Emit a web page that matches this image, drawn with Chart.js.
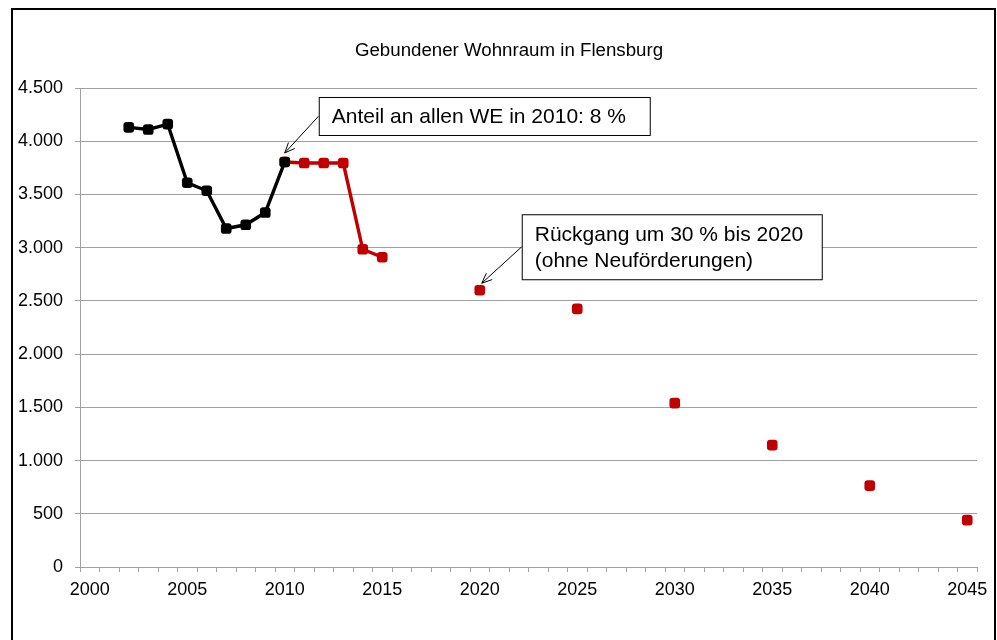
<!DOCTYPE html>
<html>
<head>
<meta charset="utf-8">
<script src="https://cdn.jsdelivr.net/npm/chart.js@4"></script>
<style>
  html, body { margin: 0; padding: 0; background: #fff; }
  #wrap { width: 997px; height: 640px; position: relative; }
</style>
</head>
<body>
<div id="wrap"><canvas id="wohnraum" width="997" height="640"></canvas></div>
<script>
// Kategorien: Jahre 2000 bis 2045
const jahre = Array.from({ length: 46 }, (_, i) => String(2000 + i));

// Bestand (schwarz)
const bestandJahre = ['2002', '2003', '2004', '2005', '2006', '2007', '2008', '2009', '2010'];
const bestandWerte = [4130, 4110, 4160, 3610, 3535, 3180, 3215, 3330, 3805];

// Auslaufende Bindungen (rot, verbunden)
const auslaufJahre = ['2010', '2011', '2012', '2013', '2014', '2015'];
const auslaufWerte = [3805, 3795, 3795, 3795, 2985, 2910];

// Prognose (rot, nur Punkte)
const prognoseJahre = ['2020', '2025', '2030', '2035', '2040', '2045'];
const prognoseWerte = [2600, 2425, 1540, 1145, 765, 440];

const yTicks = [0, 500, 1000, 1500, 2000, 2500, 3000, 3500, 4000, 4500];

const titel = 'Gebundener Wohnraum in Flensburg';

const toPoints = (xs, ys) => xs.map((x, i) => ({ x: x, y: ys[i] }));
const formatDE = n => String(n).replace(/\B(?=(\d{3})+(?!\d))/g, '.');

const rot = '#c00000';
const grau = '#a0a0a0';
const schrift = "'Liberation Sans', Arial, sans-serif";

Chart.defaults.font.family = schrift;
Chart.defaults.color = '#000';

// Hinweise mit Pfeil, an Datenpunkte gebunden
const hinweise = [
  { dataset: 0, jahr: '2010', zeilen: ['Anteil an allen WE in 2010: 8 %'], dx: 34, dy: -65, w: 331, h: 38, tip: [0, -9] },
  { dataset: 2, jahr: '2020', zeilen: ['Rückgang um 30 % bis 2020', '(ohne Neuförderungen)'], dx: 42, dy: -76, w: 300, h: 65, tip: [2, -7] }
];
const datasetJahre = [bestandJahre, auslaufJahre, prognoseJahre];

const hinweisPlugin = {
  id: 'hinweise',
  afterDraw(chart) {
    const ctx = chart.ctx;
    ctx.save();
    // Rahmen um das Diagramm
    ctx.strokeStyle = '#000';
    ctx.lineWidth = 2;
    ctx.strokeRect(12, 9, 983, 640);

    // Titel
    ctx.fillStyle = '#000';
    ctx.font = '18.7px ' + schrift;
    ctx.textAlign = 'center';
    ctx.textBaseline = 'middle';
    ctx.fillText(titel, 509, 51);

    hinweise.forEach(h => {
      const idx = datasetJahre[h.dataset].indexOf(h.jahr);
      const pt = chart.getDatasetMeta(h.dataset).data[idx];
      const left = pt.x + h.dx;
      const top = pt.y + h.dy;
      const tipX = pt.x + h.tip[0];
      const tipY = pt.y + h.tip[1];
      const startX = left;
      const startY = top + h.h / 2;

      // Pfeil
      ctx.strokeStyle = '#000';
      ctx.lineWidth = 1;
      ctx.beginPath();
      ctx.moveTo(startX, startY);
      ctx.lineTo(tipX, tipY);
      const ang = Math.atan2(tipY - startY, tipX - startX);
      const len = 11;
      ctx.moveTo(tipX - len * Math.cos(ang - 0.4), tipY - len * Math.sin(ang - 0.4));
      ctx.lineTo(tipX, tipY);
      ctx.lineTo(tipX - len * Math.cos(ang + 0.4), tipY - len * Math.sin(ang + 0.4));
      ctx.stroke();

      // Kasten
      ctx.fillStyle = '#fff';
      ctx.fillRect(left, top, h.w, h.h);
      ctx.strokeRect(left + 0.5, top + 0.5, h.w, h.h);

      // Text
      ctx.fillStyle = '#000';
      ctx.font = '21px ' + schrift;
      ctx.textBaseline = 'middle';
      ctx.textAlign = 'left';
      const mid = top + h.h / 2;
      const step = 26;
      h.zeilen.forEach((z, i) => {
        const y = mid + (i - (h.zeilen.length - 1) / 2) * step;
        ctx.fillText(z, left + 13, y + 1);
      });
    });
    ctx.restore();
  }
};

const ctx = document.getElementById('wohnraum').getContext('2d');
new Chart(ctx, {
  type: 'line',
  data: {
    labels: jahre,
    datasets: [
      {
        label: 'Bestand',
        data: toPoints(bestandJahre, bestandWerte),
        borderColor: '#000',
        backgroundColor: '#000',
        borderWidth: 3.4,
        pointStyle: 'rectRounded',
        pointRadius: 6.2,
        pointBorderWidth: 0,
        tension: 0
      },
      {
        label: 'Auslaufend',
        data: toPoints(auslaufJahre, auslaufWerte),
        borderColor: rot,
        backgroundColor: rot,
        borderWidth: 3.4,
        pointStyle: 'rectRounded',
        pointRadius: 6.2,
        pointBorderWidth: 0,
        tension: 0
      },
      {
        label: 'Prognose',
        data: toPoints(prognoseJahre, prognoseWerte),
        borderColor: rot,
        backgroundColor: rot,
        showLine: false,
        pointStyle: 'rectRounded',
        pointRadius: 6.2,
        pointBorderWidth: 0
      }
    ]
  },
  options: {
    responsive: false,
    animation: false,
    layout: { padding: { left: 0, right: 20, top: 88, bottom: 0 } },
    plugins: {
      legend: { display: false },
      tooltip: { enabled: false },
      title: { display: false }
    },
    scales: {
      x: {
        type: 'category',
        offset: true,
        afterFit: s => { s.height = 73; },
        border: { color: grau, width: 1 },
        grid: {
          offset: true,
          drawOnChartArea: false,
          drawTicks: true,
          tickLength: 5,
          color: grau
        },
        ticks: {
          autoSkip: false,
          maxRotation: 0,
          minRotation: 0,
          padding: 7,
          font: { size: 18 },
          color: '#000',
          callback: (v, i) => (Number(jahre[i]) % 5 === 0 ? jahre[i] : '')
        }
      },
      y: {
        min: 0,
        max: 4500,
        afterFit: s => { s.width = 80; },
        afterBuildTicks: s => { s.ticks = yTicks.map(v => ({ value: v })); },
        border: { color: grau, width: 1 },
        grid: { color: grau, tickLength: 5, lineWidth: 1 },
        ticks: {
          padding: 12,
          font: { size: 18 },
          color: '#000',
          callback: v => formatDE(v)
        }
      }
    }
  },
  plugins: [hinweisPlugin]
});
</script>
</body>
</html>
